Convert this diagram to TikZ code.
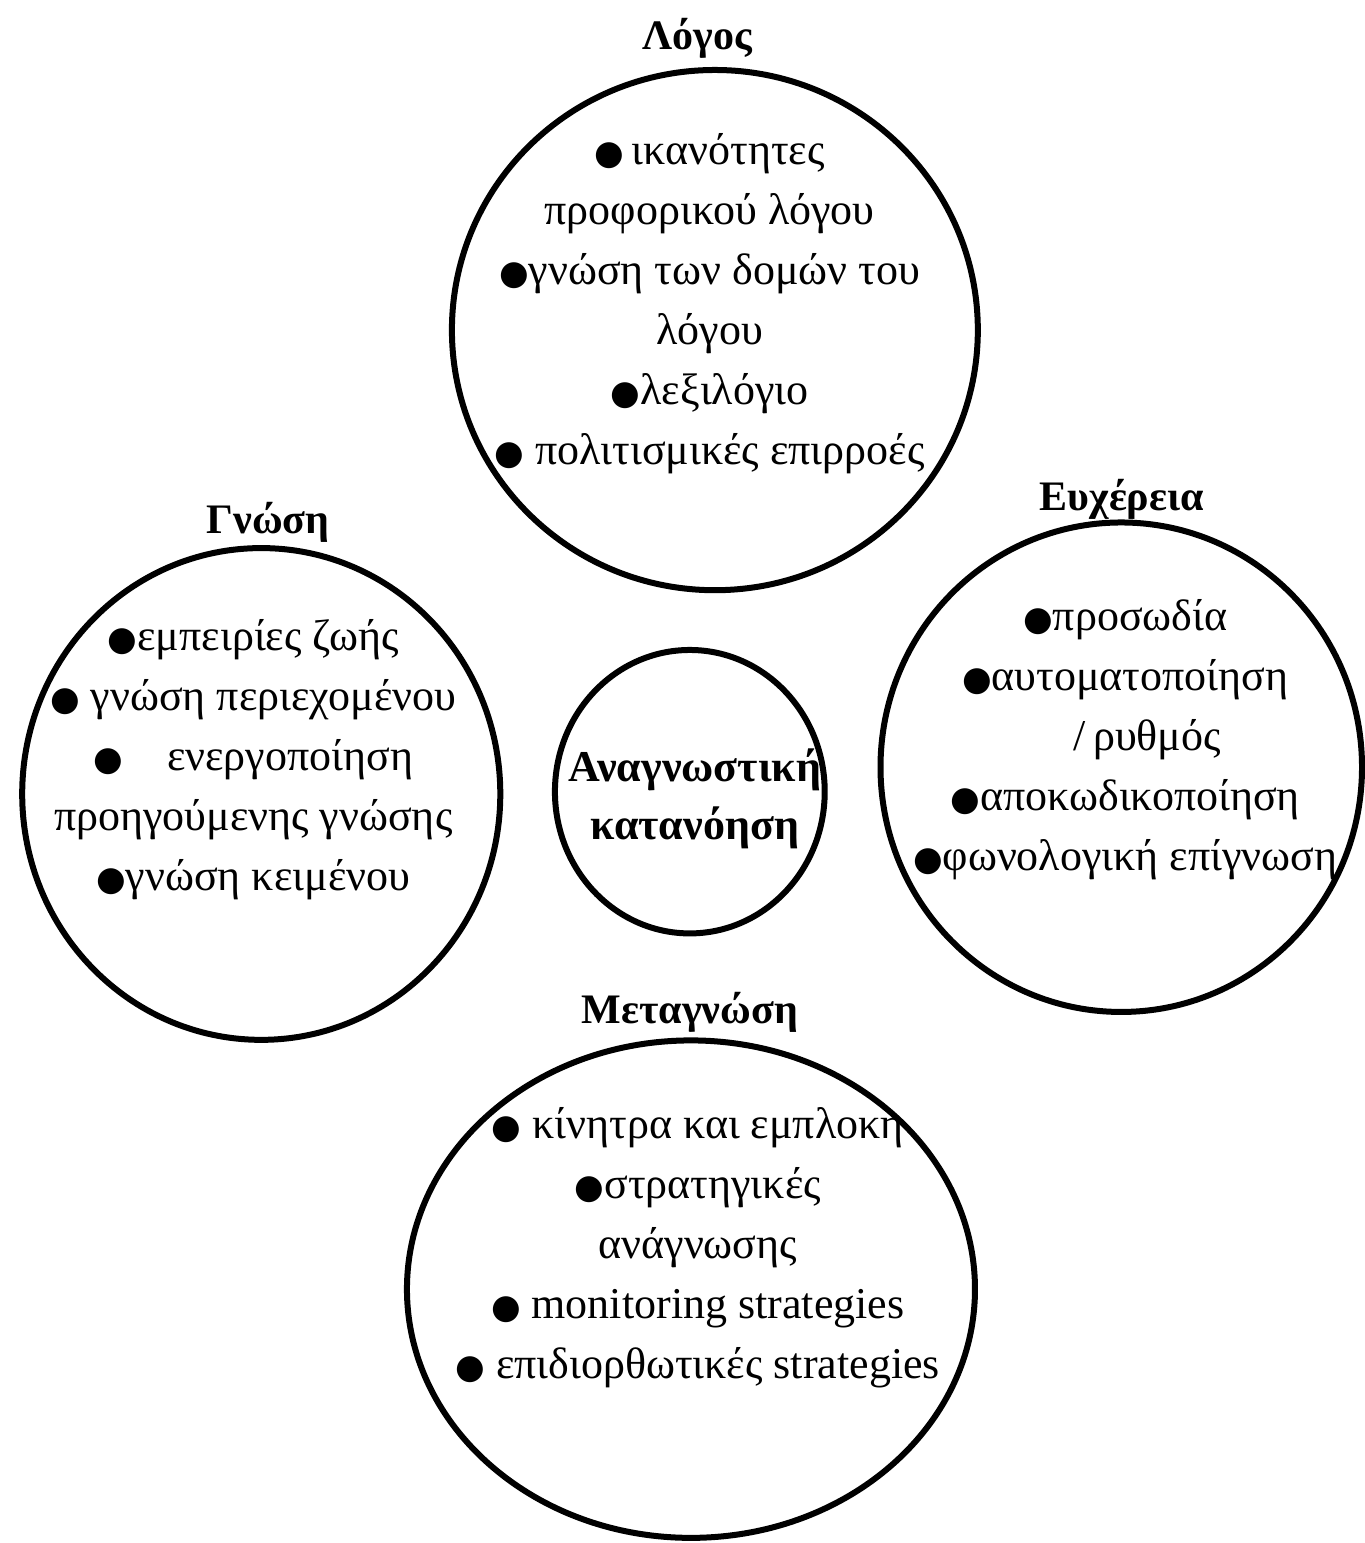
\documentclass[tikz,border=0pt]{standalone}
\usepackage{fontspec}
\setmainfont{Liberation Serif}
\newfontfamily\bulletfont{DejaVu Sans}
\newcommand{\bul}{{\bulletfont\fontsize{17}{17}\selectfont ●}}
\tikzset{
	items/.style={align=center, font=\fontsize{22}{30}\selectfont},
	heading/.style={font=\fontsize{21}{25}\selectfont\bfseries},
}

\begin{document}
\begin{tikzpicture}[line width=3pt]
	\useasboundingbox (0, 0) rectangle (23.98, 27.11);

	\draw (12.56, 21.31) ellipse (4.62 and 4.57); % Λόγος
	\draw (4.59, 13.16) ellipse (4.20 and 4.32);  % Γνώση
	\draw (19.70, 13.63) ellipse (4.23 and 4.30); % Ευχέρεια
	\draw (12.12, 13.20) ellipse (2.37 and 2.49); % κέντρο
	\draw (12.14, 4.46) ellipse (4.99 and 4.37);  % Μεταγνώση

	\node[heading] (logos) at (12.25, 26.44) {Λόγος};
	\node[heading] (gnosi) at (4.71, 17.94) {Γνώση};
	\node[heading] (eyxereia) at (19.71, 18.33) {Ευχέρεια};
	\node[heading] (metagnosi) at (12.12, 9.33) {Μεταγνώση};

	\node[items] (logositems) at (12.47, 21.78) {\bul\,ικανότητες\\προφορικού λόγου\\\bul γνώση των δομών του\\λόγου\\\bul λεξιλόγιο\\\bul\ πολιτισμικές επιρροές};
	\node[items] (gnosiitems) at (4.45, 13.76) {\bul εμπειρίες ζωής\\\bul\ γνώση περιεχομένου\\\bul\quad ενεργοποίηση\\προηγούμενης γνώσης\\\bul γνώση κειμένου};
	\node[items] (eyxereiaitems) at (19.77, 14.11) {\bul προσωδία\\\bul αυτοματοποίηση\\\hspace*{1em}/\,ρυθμός\\\bul αποκωδικοποίηση\\\bul φωνολογική επίγνωση};
	\node[items] (metagnosiitems) at (12.26, 5.19) {\bul\ κίνητρα και εμπλοκη\\\bul στρατηγικές\\ανάγνωσης\\\bul\ monitoring strategies\\\bul\ επιδιορθωτικές strategies};

	\node[items, font=\fontsize{22}{29}\selectfont\bfseries] (katanoisi) at (12.21, 13.07) {Αναγνωστική\\κατανόηση};
\end{tikzpicture}
\end{document}
